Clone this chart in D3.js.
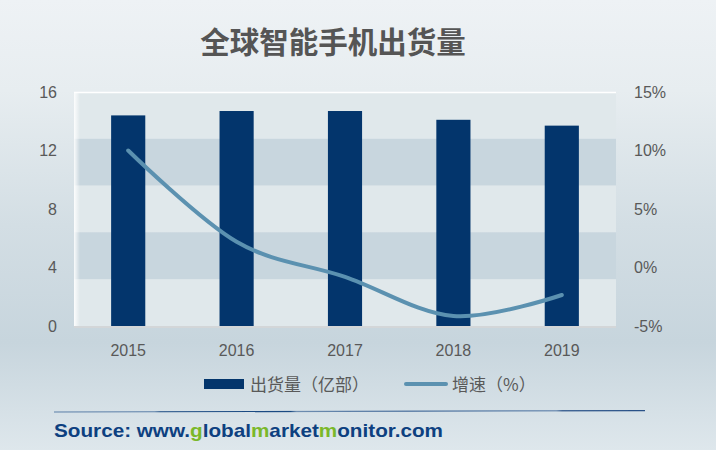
<!DOCTYPE html>
<html><head><meta charset="utf-8">
<script src="https://cdn.jsdelivr.net/npm/d3@7"></script>
<style>html,body{margin:0;padding:0;}svg{display:block;}</style>
</head><body>
<svg id="c" width="716" height="450"></svg>
<script>
const years = ["2015","2016","2017","2018","2019"];
const shipments = [14.4, 14.7, 14.7, 14.1, 13.7];
const growth = [10.0, 2.2, -0.8, -4.15, -2.35];
const leftTicks = [0, 4, 8, 12, 16];
const rightTicks = [-5, 0, 5, 10, 15];
const title = "全球智能手机出货量";
const legendLabels = ["出货量（亿部）", "增速（%）"];

const svg = d3.select("#c");
const W = 716, H = 450;
const m = {left: 74, right: 616, top: 92, bottom: 326};
const defs = svg.append("defs");
const bg = defs.append("linearGradient").attr("id","bg").attr("x1",0).attr("y1",0).attr("x2",0).attr("y2",1);
[[0,"#eef2f5"],[0.2,"#e7edf0"],[0.5,"#d3dee4"],[0.76,"#c7d5dd"],[1,"#dee7ec"]].forEach(([o,c])=>bg.append("stop").attr("offset",o).attr("stop-color",c));
svg.append("rect").attr("width",W).attr("height",H).attr("fill","url(#bg)");

const x = d3.scaleBand().domain(years).range([m.left, m.right]).paddingInner(0.685).paddingOuter(0.3425);
const y = d3.scaleLinear().domain([0,16]).range([m.bottom, m.top]);
const y2 = d3.scaleLinear().domain([-5,15]).range([m.bottom, m.top]);

// plot area
const bandH = (m.bottom - m.top)/5;
d3.range(5).forEach(i=>{
  svg.append("rect").attr("x",m.left).attr("y",m.top+i*bandH).attr("width",m.right-m.left).attr("height",bandH)
    .attr("fill", i%2===1 ? "#c8d6de" : "#e0e8eb");
});
const lg = defs.append("linearGradient").attr("id","lshade").attr("x1",0).attr("x2",1);
lg.append("stop").attr("offset",0).attr("stop-color","#ffffff").attr("stop-opacity",0.9);
lg.append("stop").attr("offset",1).attr("stop-color","#ffffff").attr("stop-opacity",0);
svg.append("rect").attr("x",m.left).attr("y",m.top).attr("width",6).attr("height",m.bottom-m.top).attr("fill","url(#lshade)");
svg.append("line").attr("x1",m.left).attr("x2",m.right).attr("y1",m.top+0.5).attr("y2",m.top+0.5).attr("stroke","#ffffff").attr("stroke-width",1.5);
svg.append("line").attr("x1",m.left).attr("x2",m.right).attr("y1",m.bottom+1).attr("y2",m.bottom+1).attr("stroke","#d3d6d8").attr("stroke-width",2);

// bars
svg.selectAll("rect.bar").data(years).enter().append("rect").attr("class","bar")
  .attr("x",d=>x(d)).attr("width",x.bandwidth())
  .attr("y",(d,i)=>y(shipments[i])).attr("height",(d,i)=>y(0)-y(shipments[i]))
  .attr("fill","#03356c");

// line
const line = d3.line().x((d,i)=>x(years[i])+x.bandwidth()/2).y(d=>y2(d)).curve(d3.curveCardinal.tension(0));
svg.append("path").datum(growth).attr("d",line).attr("fill","none")
  .attr("stroke","#5b91b0").attr("stroke-width",4).attr("stroke-linecap","round").attr("stroke-linejoin","round");

const font = "'Liberation Sans', Arial, 'Noto Sans CJK SC', sans-serif";
const txtCol = "#595959";
// axes
const ax = d3.axisLeft(y).tickValues(leftTicks).tickSize(0).tickPadding(0);
const gL = svg.append("g").attr("transform",`translate(57,0)`).call(ax);
const ax2 = d3.axisRight(y2).tickValues(rightTicks).tickSize(0).tickPadding(0).tickFormat(d=>d+"%");
const gR = svg.append("g").attr("transform",`translate(634,0)`).call(ax2);
const axb = d3.axisBottom(x).tickSize(0).tickPadding(0);
const gB = svg.append("g").attr("transform",`translate(0,${m.bottom+19})`).call(axb);
[gL,gR,gB].forEach(g=>{
  g.select(".domain").remove();
  g.selectAll("text").attr("fill",txtCol).style("font-family",font).style("font-size","16px");
});

// title
svg.append("text").attr("x",333).attr("y",53).attr("text-anchor","middle")
  .style("font-family","'Noto Sans CJK SC', sans-serif").style("font-weight","bold").style("font-size","29.5px")
  .attr("fill","#555555").text(title);

// legend
svg.append("rect").attr("x",204).attr("y",379).attr("width",40).attr("height",10).attr("fill","#03356c");
svg.append("text").attr("x",250).attr("y",391).attr("fill",txtCol)
  .style("font-family","'Noto Sans CJK SC', sans-serif").style("font-size","17px").text(legendLabels[0]);
svg.append("line").attr("x1",406).attr("x2",446).attr("y1",384).attr("y2",384)
  .attr("stroke","#5b91b0").attr("stroke-width",4).attr("stroke-linecap","round");
svg.append("text").attr("x",452).attr("y",391).attr("fill",txtCol)
  .style("font-family","'Noto Sans CJK SC', sans-serif").style("font-size","17px").text(legendLabels[1]);

// separator
const sg = defs.append("linearGradient").attr("id","sep").attr("x1",0).attr("x2",1);
[[0,"#5b7fa8"],[0.17,"#5b7fa8"],[0.18,"#1a4a82"],[0.4,"#1a4a82"],[0.41,"#6e8db0"],[0.6,"#4a6f9c"],[0.85,"#6a8ab0"],[0.86,"#2a5288"],[1,"#2a5288"]].forEach(([o,c])=>sg.append("stop").attr("offset",o).attr("stop-color",c));
svg.append("path").attr("d","M54,411.4 L645,410 L645,411.2 L54,412.6 Z").attr("fill","url(#sep)");

// source
const src = svg.append("text").attr("x",54).attr("y",437)
  .style("font-family","'Liberation Sans', Arial, sans-serif").style("font-weight","bold").style("font-size","19px")
  .attr("fill","#0d4080").attr("textLength",389).attr("lengthAdjust","spacingAndGlyphs");
[["Source: www.","#0d4080"],["g","#7ab82a"],["lobal","#0d4080"],["m","#7ab82a"],["arket","#0d4080"],["m","#7ab82a"],["onitor.com","#0d4080"]]
  .forEach(([t,c])=>src.append("tspan").attr("fill",c).text(t));
</script>
</body></html>
